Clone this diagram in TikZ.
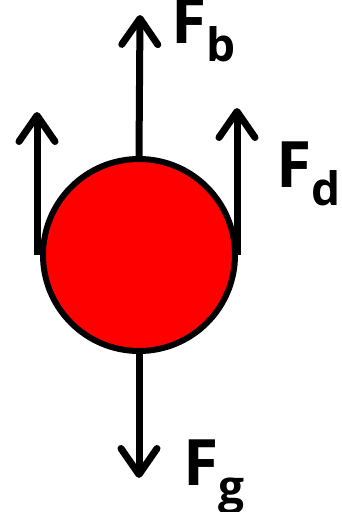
\documentclass[tikz,border=0pt]{standalone}
\usepackage{fontspec}
\setmainfont{Open Sans}
\usetikzlibrary{arrows.meta}
\definecolor{ballred}{HTML}{FF0000}
\newcommand{\forcelab}[1]{{\fontsize{64}{64}\selectfont\bfseries F}\raisebox{-18pt}{\fontsize{46}{46}\selectfont\bfseries #1}}

\begin{document}
\begin{tikzpicture}[x=1pt,y=-1pt,
  force/.style={line width=7pt,-{Straight Barb[length=26pt,width=36pt,line cap=round,line join=round]}},
  lab/.style={anchor=base west,inner sep=0pt}]
  \useasboundingbox (0,0) rectangle (341,512);
  \node[circle,draw,line width=6pt,fill=ballred,minimum size=192pt,inner sep=0pt] (ball) at (139,255) {};

  \coordinate (btip) at (140,15);
  \coordinate (gtip) at (139,478);
  \coordinate (dlbase) at (37,255);
  \coordinate (dltip) at (37,112);
  \coordinate (drbase) at (237,255);
  \coordinate (drtip) at (237,108);

  \draw[force] (ball.north) -- (btip);
  \draw[force] (ball.south) -- (gtip);
  \draw[force] (dlbase) -- (dltip);
  \draw[force] (drbase) -- (drtip);

  \node[lab] (fb) at (171,43) {\forcelab{b}};
  \node[lab] (fd) at (276,187) {\forcelab{d}};
  \node[lab] (fg) at (183,485) {\forcelab{g}};
\end{tikzpicture}
\end{document}
